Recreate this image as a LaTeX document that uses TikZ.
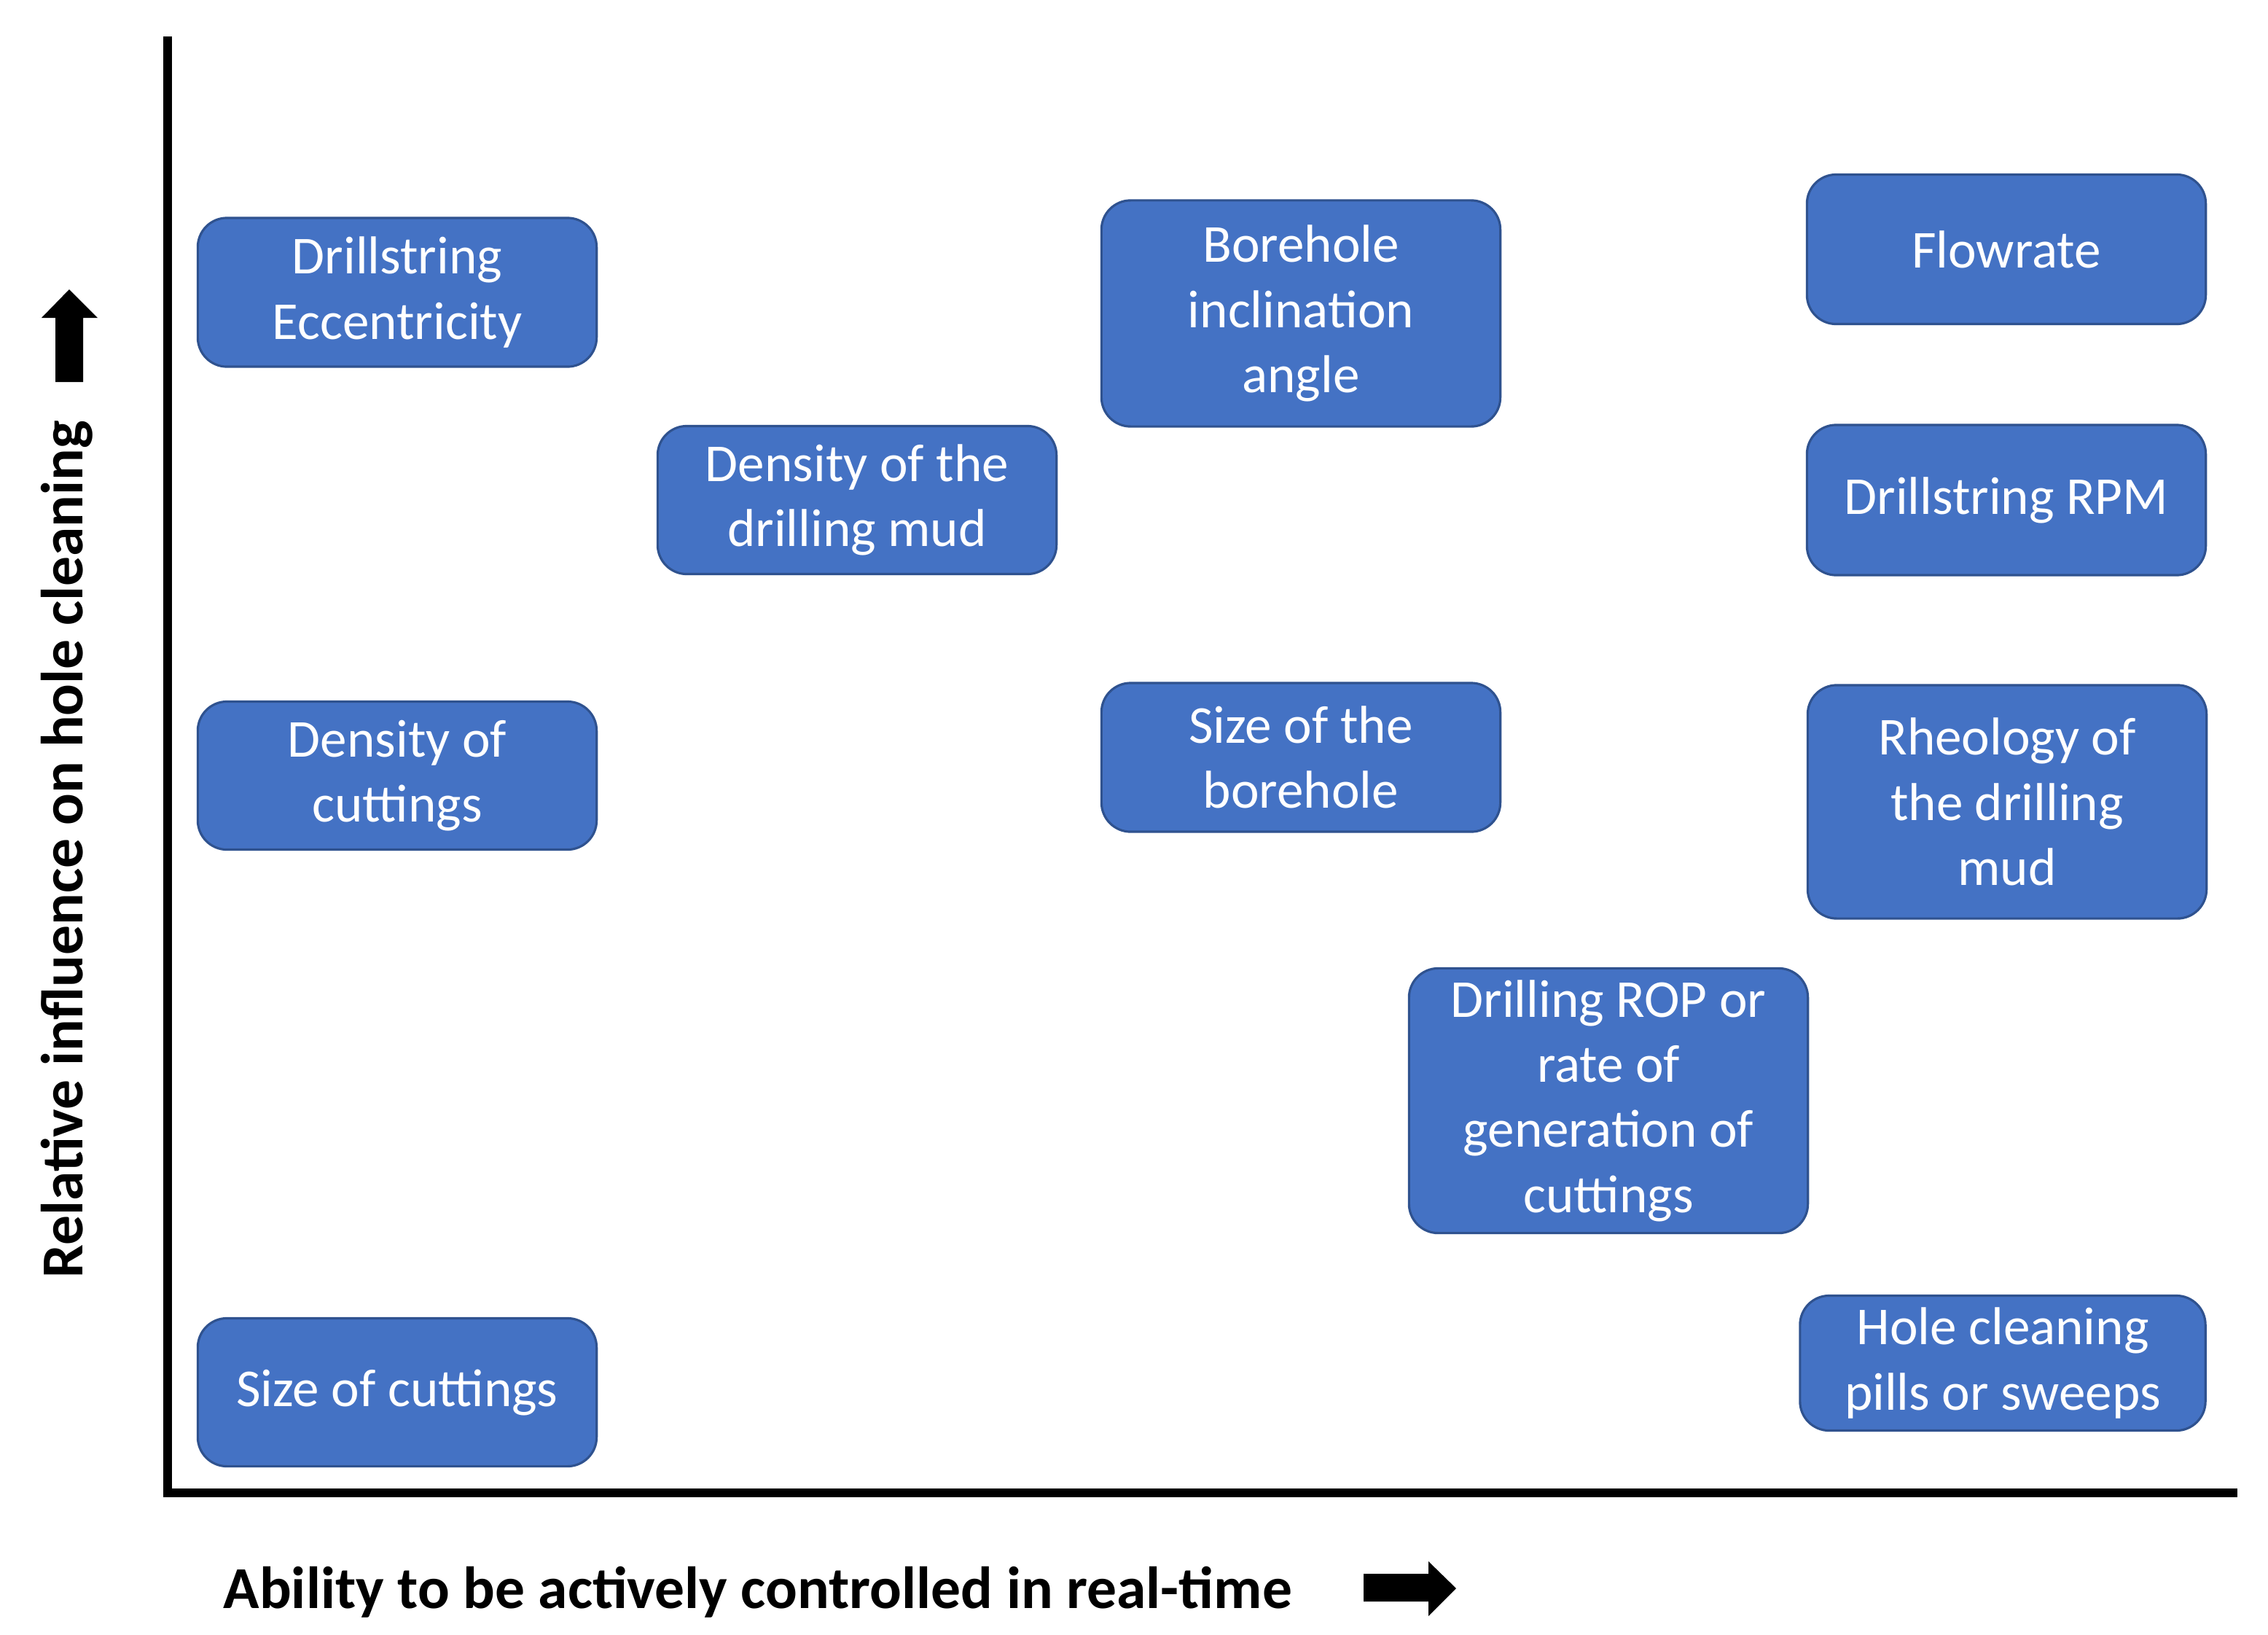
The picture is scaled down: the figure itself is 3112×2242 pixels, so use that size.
\documentclass[tikz,border=0pt]{standalone}
\usepackage{fontspec}
\setmainfont{Carlito}
\definecolor{boxfill}{HTML}{4472C4}
\definecolor{boxborder}{HTML}{2F528F}
\begin{document}
\begin{tikzpicture}[x=0.01cm,y=-0.01cm,
  factor/.style={draw=boxborder, line width=0.9pt, fill=boxfill, rounded corners=0.4cm,
    text=white, font=\fontsize{20.8pt}{25.4pt}\selectfont, align=center,
    inner sep=0pt, minimum width=5.47cm},
  axislabel/.style={font=\fontsize{23.2pt}{28pt}\selectfont\bfseries, inner sep=0pt},
  axisline/.style={line width=0.12cm},
  bigarrow/.style={fill=black}]
\useasboundingbox (0,0) rectangle (3112,2242);

% axes
\coordinate (ytop) at (230,50);
\coordinate (origin) at (230,2048);
\coordinate (xend) at (3070,2048);
\draw[axisline] (ytop) -- (origin) -- (xend);

% axis labels
\node[axislabel, rotate=90, anchor=base west] (ylab) at (113,1754) {Relative influence on hole cleaning};
\node[axislabel, anchor=base west] (xlab) at (306,2206) {Ability to be actively controlled in real-time};

% arrows
\fill[bigarrow] (76,524) -- (76,436) -- (57,436) -- (95,397) -- (134,436) -- (114,436) -- (114,524) -- cycle;
\fill[bigarrow] (1871,2159) -- (1960,2159) -- (1960,2142) -- (1998,2179) -- (1960,2217) -- (1960,2197) -- (1871,2197) -- cycle;

% factor boxes
\node[factor, minimum height=2.04cm] (ecc) at (545,401) {Drillstring\\Eccentricity};
\node[factor, minimum height=3.10cm] (incl) at (1785,430) {Borehole\\inclination\\angle};
\node[factor, minimum height=2.05cm] (flow) at (2753,342) {Flowrate};
\node[factor, minimum height=2.03cm] (mud) at (1176,686) {Density of the\\drilling mud};
\node[factor, minimum height=2.06cm] (rpm) at (2753,686) {Drillstring RPM};
\node[factor, minimum height=2.03cm] (dcut) at (545,1064) {Density of\\cuttings};
\node[factor, minimum height=2.04cm] (hole) at (1785,1039) {Size of the\\borehole};
\node[factor, minimum height=3.20cm] (rheo) at (2754,1100) {Rheology of\\the drilling\\mud};
\node[factor, minimum height=3.63cm] (rop) at (2207,1510) {Drilling ROP or\\rate of\\generation of\\cuttings};
\node[factor, minimum height=1.85cm, minimum width=5.56cm] (pills) at (2748,1870) {Hole cleaning\\pills or sweeps};
\node[factor, minimum height=2.03cm] (scut) at (545,1910) {Size of cuttings};
\end{tikzpicture}
\end{document}
